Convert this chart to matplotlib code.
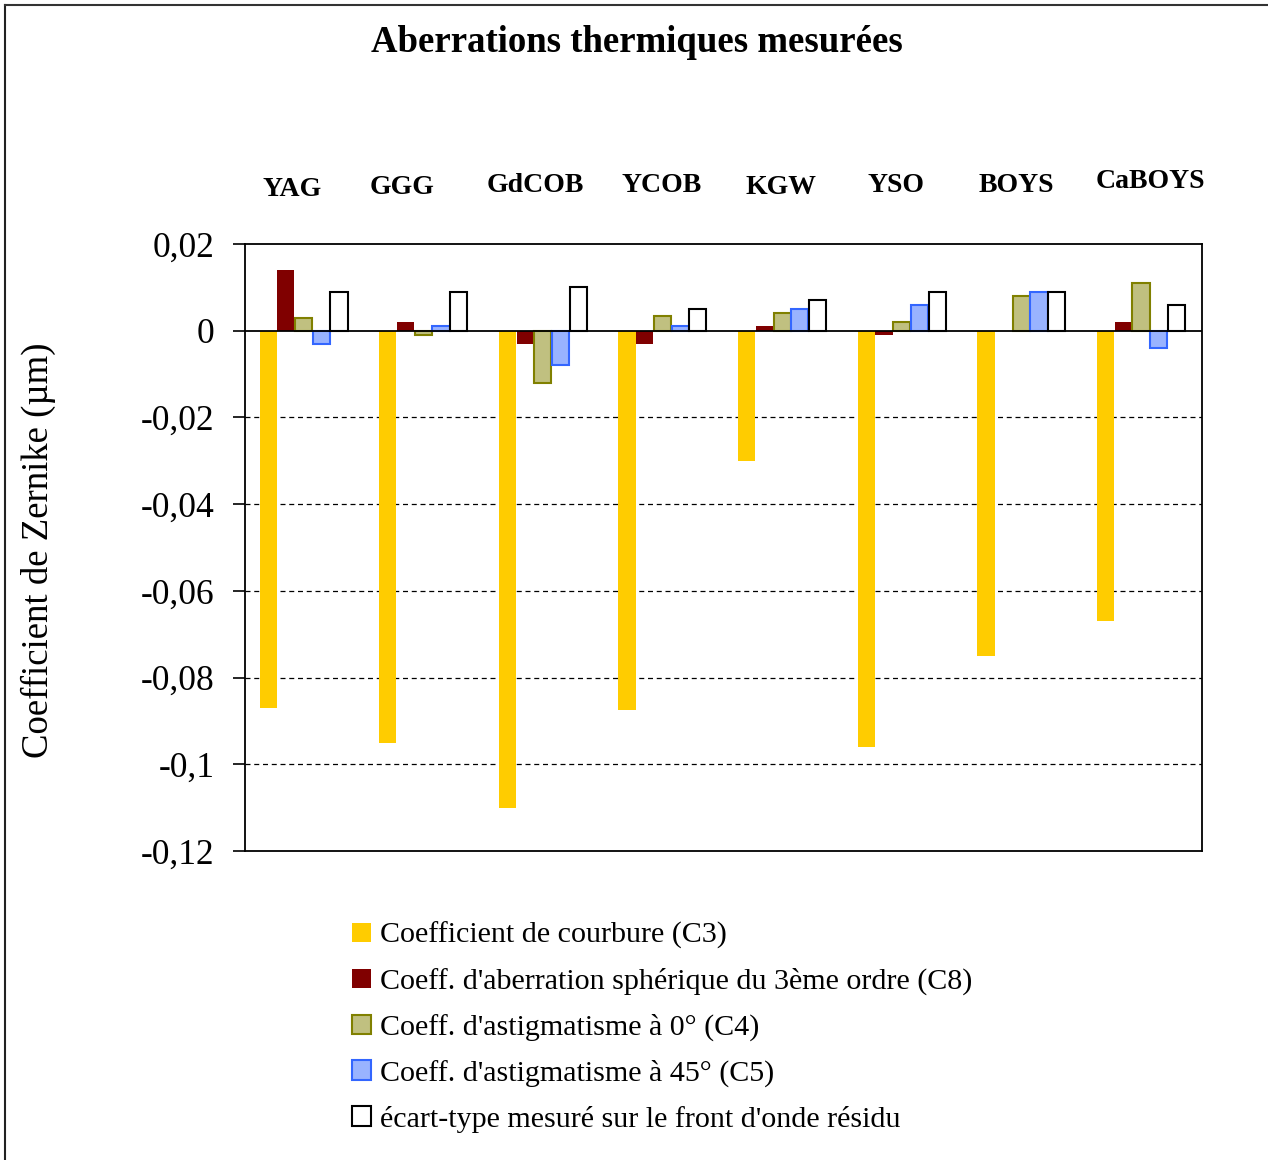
import matplotlib
matplotlib.use("Agg")
import matplotlib.pyplot as plt
from matplotlib.patches import Patch
from matplotlib.lines import Line2D

plt.rcParams['font.family'] = ['Liberation Serif', 'DejaVu Serif']

# Data (Zernike coefficients, µm)
crystals = ["YAG", "GGG", "GdCOB", "YCOB", "KGW", "YSO", "BOYS", "CaBOYS"]
c3_courbure = [-0.087, -0.095, -0.110, -0.0875, -0.030, -0.096, -0.075, -0.067]
c8_spherique = [0.014, 0.002, -0.003, -0.003, 0.001, -0.001, 0.0, 0.002]
c4_astig0 = [0.003, -0.001, -0.012, 0.0035, 0.004, 0.002, 0.008, 0.011]
c5_astig45 = [-0.003, 0.001, -0.008, 0.0012, 0.005, 0.006, 0.009, -0.004]
ecart_type = [0.009, 0.009, 0.010, 0.005, 0.007, 0.009, 0.009, 0.006]

series_labels = [
    "Coefficient de courbure (C3)",
    "Coeff. d'aberration sphérique du 3ème ordre (C8)",
    "Coeff. d'astigmatisme à 0° (C4)",
    "Coeff. d'astigmatisme à 45° (C5)",
    "écart-type mesuré sur le front d'onde résidu",
]
ytick_values = [0.02, 0.0, -0.02, -0.04, -0.06, -0.08, -0.10, -0.12]
ytick_labels = ["0,02", "0", "-0,02", "-0,04", "-0,06", "-0,08", "-0,1", "-0,12"]

# Per-series styles: (face, edge, linewidth)
styles = [
    ("#FFCC00", "none", 0),
    ("#800000", "none", 0),
    ("#C0C080", "#808000", 1.5),
    ("#99B3FF", "#3366FF", 1.5),
    ("#FFFFFF", "#000000", 1.5),
]

W, H, DPI = 1268, 1160, 100
fig = plt.figure(figsize=(W / DPI, H / DPI), dpi=DPI)
ax = fig.add_axes([245 / W, 1 - 851 / H, (1202 - 245) / W, (851 - 244) / H])

series = [c3_courbure, c8_spherique, c4_astig0, c5_astig45, ecart_type]
bw = 0.148
centre = 0.49
for k, (vals, (fc, ec, lw)) in enumerate(zip(series, styles)):
    xs = [i + centre + (k - 2) * bw for i in range(len(crystals))]
    ax.bar(xs, vals, width=bw * 0.97, color=fc, edgecolor=ec, linewidth=lw,
           zorder=3)

ax.set_xlim(0, len(crystals))
ax.set_ylim(-0.12, 0.02)
ax.set_xticks([])
ax.set_yticks(ytick_values)
ax.set_yticklabels(ytick_labels, fontsize=25.5)
ax.tick_params(axis='y', direction='out', length=9, width=1.2, pad=13)
for v in ytick_values:
    if -0.12 < v < 0:
        ax.axhline(v, color='black', linestyle=(0, (4, 3)), linewidth=0.9,
                   zorder=1)
ax.axhline(0, color='black', linewidth=1.3, zorder=4)
for s in ax.spines.values():
    s.set_linewidth(1.3)
    s.set_color('black')

fig.text(38 / W, 1 - 550 / H, "Coefficient de Zernike (µm)", rotation=90,
         ha='center', va='center', fontsize=26.5)

# Crystal names above the plot area
name_pos = [(292, 189), (402, 188), (535, 185), (662, 186),
            (781, 187), (896, 185), (1016, 185), (1150, 182)]
for name, (px, py) in zip(crystals, name_pos):
    fig.text(px / W, 1 - py / H, name, ha='center', va='center',
             fontsize=20, fontweight='bold')

fig.text(637 / W, 1 - 42 / H, "Aberrations thermiques mesurées",
         ha='center', va='center', fontsize=26.5, fontweight='bold')

handles = [Patch(facecolor=fc, edgecolor=(ec if ec != "none" else fc),
                 linewidth=(lw if lw else 0)) for fc, ec, lw in styles]
fig.legend(handles, series_labels, loc='upper left',
           bbox_to_anchor=(340 / W, 1 - 910 / H), frameon=False,
           fontsize=21.6, handlelength=0.62, handleheight=0.62,
           handletextpad=0.3, labelspacing=0.62, borderaxespad=0)

# Outer frame (left and top edges)
fig.add_artist(Line2D([5 / W, 5 / W], [0, 1 - 5 / H], color='#222222',
                      linewidth=1.5, transform=fig.transFigure))
fig.add_artist(Line2D([5 / W, 1], [1 - 5 / H, 1 - 5 / H], color='#333333',
                      linewidth=1.5, transform=fig.transFigure))

fig.savefig("out.png", dpi=DPI)
